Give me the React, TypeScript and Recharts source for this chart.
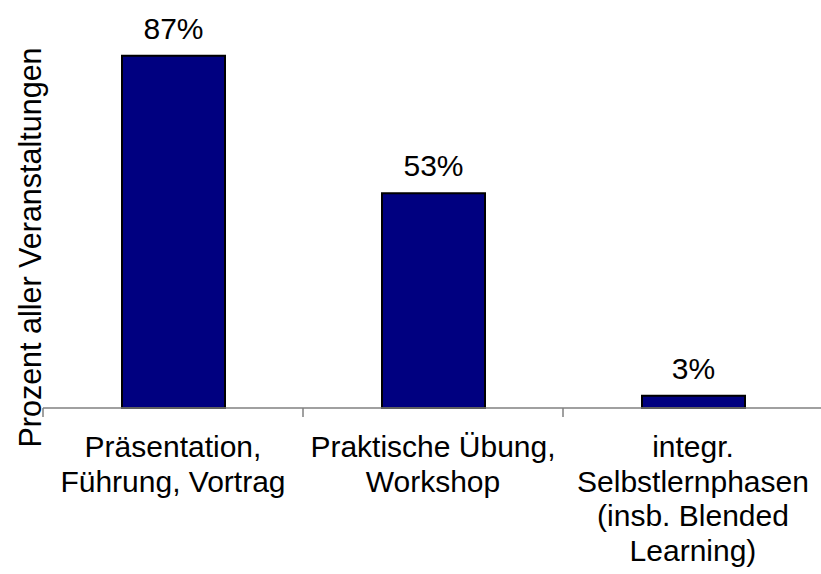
import { BarChart, Bar, XAxis, YAxis, LabelList } from "recharts";

const categories = [
  "Präsentation,\nFührung, Vortrag",
  "Praktische Übung,\nWorkshop",
  "integr.\nSelbstlernphasen\n(insb. Blended\nLearning)",
];
const shares = [87, 53, 3];
const yTitle = "Prozent aller Veranstaltungen";

const data = categories.map((name, i) => ({ name, value: shares[i] }));

const W = 823;
const H = 574;
const margin = { top: 3, right: 0, left: 0, bottom: 0 };
const yAxisWidth = 43;
const band = (W - yAxisWidth - margin.left - margin.right) / categories.length;
const font = "'Liberation Sans', Arial, sans-serif";

function CategoryTick(props: any) {
  const { x, y, payload, index } = props;
  const lines = String(payload.value).split("\n");
  const axisY = y - 8;
  return (
    <g>
      <line x1={x - band / 2} y1={axisY} x2={x - band / 2} y2={axisY + 9} stroke="#808080" strokeWidth={1.5} />
      {index === categories.length - 1 && (
        <line x1={x + band / 2} y1={axisY} x2={x + band / 2} y2={axisY + 9} stroke="#808080" strokeWidth={1.5} />
      )}
      <text x={x} y={y + 41} textAnchor="middle" fill="#000" fontSize={30} fontFamily={font}>
        {lines.map((l, i) => (
          <tspan key={i} x={x} dy={i === 0 ? 0 : 34.5}>{l}</tspan>
        ))}
      </text>
    </g>
  );
}

function ValueLabel(props: any) {
  const { x, y, width, value } = props;
  return (
    <text x={x + width / 2} y={y - 17} textAnchor="middle" fill="#000" fontSize={30} fontFamily={font}>
      {`${value}%`}
    </text>
  );
}

function YTitle(props: any) {
  const { viewBox } = props;
  const cx = 30;
  const cy = viewBox.y + viewBox.height / 2 + 42;
  return (
    <text x={cx} y={cy} transform={`rotate(-90 ${cx} ${cy})`} textAnchor="middle" dominantBaseline="central" fill="#000" fontSize={30.5} fontFamily={font}>
      {yTitle}
    </text>
  );
}

export default function App() {
  return (
    <div style={{ position: "absolute", left: 0, top: 0, width: 821, height: H, overflow: "hidden", background: "#fff" }}>
      <BarChart width={W} height={H} data={data} margin={margin}>
        <YAxis domain={[0, 100]} width={yAxisWidth} axisLine={false} tickLine={false} tick={false} label={<YTitle />} />
        <XAxis
          dataKey="name"
          height={166}
          interval={0}
          axisLine={{ stroke: "#808080", strokeWidth: 1.5 }}
          tickLine={false}
          tick={<CategoryTick />}
        />
        <Bar dataKey="value" fill="#000080" stroke="#000" strokeWidth={2} barSize={103} isAnimationActive={false}>
          <LabelList dataKey="value" content={<ValueLabel />} />
        </Bar>
      </BarChart>
    </div>
  );
}
